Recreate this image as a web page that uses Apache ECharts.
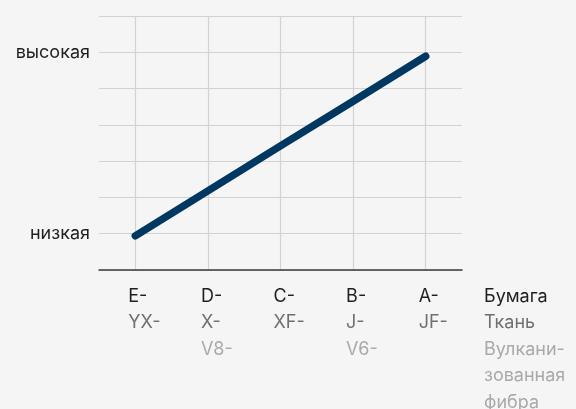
<!DOCTYPE html>
<html>
<head>
<meta charset="utf-8">
<script src="https://cdn.jsdelivr.net/npm/echarts@6/dist/echarts.min.js"></script>
<style>
html,body{margin:0;padding:0;background:#f5f5f5;}
#c{width:576px;height:409px;}
</style>
</head>
<body>
<div id="c"></div>
<script>
// Categories: [line1 (Бумага), line2 (Ткань), line3 (Вулканизованная фибра)]
const categories = ['E', 'D', 'C', 'B', 'A'];
const paperLabels = ['E-', 'D-', 'C-', 'B-', 'A-'];
const clothLabels = ['YX-', 'X-', 'XF-', 'J-', 'JF-'];
const fibreLabels = ['', 'V8-', '', 'V6-', ''];
const rowNames = ['Бумага', 'Ткань', 'Вулкани-', 'зованная', 'фибра'];
// Hardness level (0..7 scale, 1 = низкая, 6 = высокая)
const values = [0.94, 2.18, 3.42, 4.65, 5.89];
const yTickLabels = {1: 'низкая', 6: 'высокая'};

const FONT = 'Inter';
const FS = 18;
const LH = 26.5;
const C1 = '#1f1f1f', C2 = '#6f6f6f', C3 = '#a9a9a9';

const chart = echarts.init(document.getElementById('c'), null, {renderer: 'canvas'});
const rich = {
  a: {width: 14, align: 'left', color: C1, fontSize: FS, fontFamily: FONT, lineHeight: LH},
  b: {width: 14, align: 'left', color: C2, fontSize: FS, fontFamily: FONT, lineHeight: LH},
  c: {width: 14, align: 'left', color: C3, fontSize: FS, fontFamily: FONT, lineHeight: LH}
};
chart.setOption({
  backgroundColor: '#f5f5f5',
  animation: false,
  grid: {left: 99, right: 114, top: 16, bottom: 139, containLabel: false},
  title: {
    left: 484, top: 283,
    text: '{a|' + rowNames[0] + '}\n{b|' + rowNames[1] + '}\n{c|' + rowNames[2] + '}\n{c|' + rowNames[3] + '}\n{c|' + rowNames[4] + '}',
    textStyle: {
      fontFamily: FONT, fontSize: FS, fontWeight: 'normal', lineHeight: LH,
      rich: {
        a: {color: C1, fontSize: FS, fontFamily: FONT, lineHeight: LH},
        b: {color: C2, fontSize: FS, fontFamily: FONT, lineHeight: LH},
        c: {color: C3, fontSize: FS, fontFamily: FONT, lineHeight: LH}
      }
    },
    padding: 0
  },
  xAxis: {
    type: 'category',
    data: categories,
    boundaryGap: true,
    axisLine: {show: true, lineStyle: {color: '#3a3a3a', width: 1.5}},
    axisTick: {show: false},
    splitLine: {show: true, alignWithLabel: true, lineStyle: {color: '#d2d2d2', width: 1.2}},
    axisLabel: {
      margin: 13,
      align: 'center',
      verticalAlign: 'top',
      formatter: function (v, i) {
        return '{a|' + paperLabels[i] + '}\n{b|' + clothLabels[i] + '}\n{c|' + (fibreLabels[i] || ' ') + '}';
      },
      rich: rich
    }
  },
  yAxis: {
    type: 'value',
    min: 0, max: 7, interval: 1,
    axisLine: {show: false},
    axisTick: {show: false},
    splitLine: {show: true, lineStyle: {color: '#d2d2d2', width: 1.2}},
    axisLabel: {
      margin: 9,
      color: C1, fontSize: FS, fontFamily: FONT,
      formatter: function (v) { return yTickLabels[v] || ''; }
    }
  },
  series: [{
    type: 'line',
    data: values,
    symbol: 'none',
    lineStyle: {color: '#003862', width: 7.5, cap: 'round', join: 'round'},
    z: 5
  }]
});
</script>
</body>
</html>
